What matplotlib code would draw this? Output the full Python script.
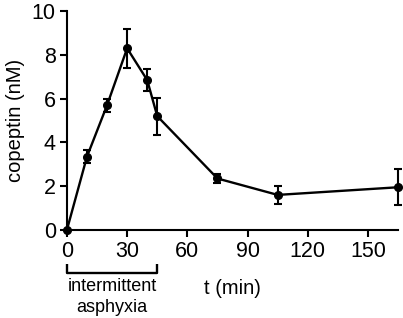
import matplotlib.pyplot as plt
from matplotlib.transforms import blended_transform_factory

plt.rcParams["font.family"] = ["Liberation Sans", "DejaVu Sans"]

# data
t_min = [0, 10, 20, 30, 40, 45, 75, 105, 165]
copeptin = [0.0, 3.35, 5.7, 8.3, 6.85, 5.2, 2.35, 1.6, 1.95]
sem = [0.0, 0.3, 0.3, 0.9, 0.5, 0.85, 0.22, 0.42, 0.82]

x_ticks = [0, 30, 60, 90, 120, 150]
y_ticks = [0, 2, 4, 6, 8, 10]
bracket_span = (0, 45)

fig = plt.figure(figsize=(4.03, 3.18), dpi=100)
ax = fig.add_axes([0.166, 0.277, 0.822, 0.688])

ax.errorbar(t_min, copeptin, yerr=sem, color="black", lw=1.7, marker="o",
            markersize=5.5, capsize=3, capthick=1.5, elinewidth=1.5, clip_on=False, zorder=3)

ax.set_xlim(0, 165)
ax.set_ylim(0, 10)
ax.set_xticks(x_ticks)
ax.set_yticks(y_ticks)
for s in ["top", "right"]:
    ax.spines[s].set_visible(False)
for s in ["left", "bottom"]:
    ax.spines[s].set_linewidth(1.5)
ax.tick_params(direction="out", length=5, width=1.5, labelsize=15.5, pad=3)

ax.set_ylabel("copeptin (nM)", fontsize=14.5, labelpad=5)
ax.set_xlabel("t (min)", fontsize=14.5, labelpad=12)

# bracket for the asphyxia period
tr = blended_transform_factory(ax.transData, ax.transAxes)
y_top, y_bot = -0.155, -0.195
x0, x1 = bracket_span
ax.plot([x0, x0, x1, x1], [y_top, y_bot, y_bot, y_top], color="black", lw=1.7,
        transform=tr, clip_on=False, solid_capstyle="butt")
ax.text((x0 + x1) / 2, -0.22, "intermittent\nasphyxia", transform=tr,
        ha="center", va="top", fontsize=13, linespacing=1.3)

fig.savefig("out.png", dpi=100, facecolor="white")
